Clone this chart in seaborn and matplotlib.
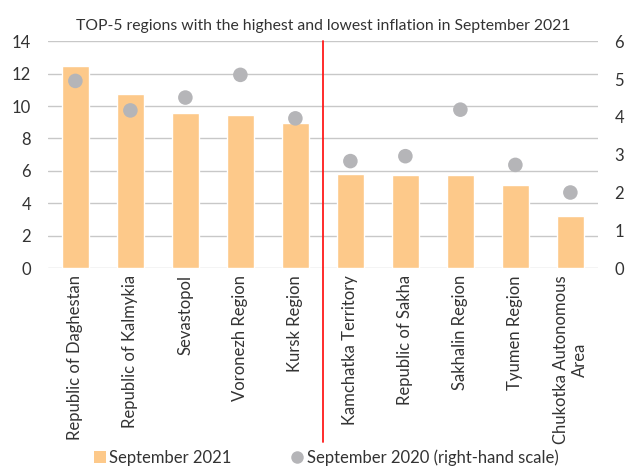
import matplotlib
matplotlib.use('agg')
import pandas as pd
import seaborn as sns
import matplotlib.pyplot as plt
from matplotlib.lines import Line2D
from matplotlib.patches import Patch

regions = ["Republic of Daghestan", "Republic of Kalmykia", "Sevastopol",
           "Voronezh Region", "Kursk Region", "Kamchatka Territory",
           "Republic of Sakha", "Sakhalin Region", "Tyumen Region",
           "Chukotka Autonomous\nArea"]
sep_2021 = [12.5, 10.77, 9.55, 9.45, 8.93, 5.83, 5.77, 5.74, 5.13, 3.21]
sep_2020 = [4.95, 4.17, 4.51, 5.11, 3.96, 2.83, 2.96, 4.19, 2.73, 2.0]

BAR = "#fdc98a"
DOT = "#b5b5b8"
GRID = "#c8c8c8"
TXT = "#333333"

df = pd.DataFrame({"region": regions, "sep2021": sep_2021, "sep2020": sep_2020})

sns.set_style("white")
plt.rcParams['font.family'] = ['Lato', 'DejaVu Sans']

fig, ax = plt.subplots(figsize=(6.3, 4.68), dpi=100)
fig.subplots_adjust(left=0.076, right=0.949, top=0.912, bottom=0.427)

sns.barplot(data=df, x="region", y="sep2021", color=BAR, width=0.5,
            saturation=1, ax=ax, zorder=2)
ax.set_ylim(0, 14)
ax.set_yticks(range(0, 15, 2))
ax.set_xlim(-0.5, 9.5)
ax.grid(axis='y', color=GRID, linewidth=1, zorder=0)
ax.set_axisbelow(True)
ax.set_xlabel("")
ax.set_ylabel("")
ax.tick_params(axis='x', rotation=90, labelsize=12, length=0, colors=TXT, pad=5)
ax.tick_params(axis='y', labelsize=12, length=0, colors=TXT, pad=12)
for s in ax.spines.values():
    s.set_visible(False)

ax2 = ax.twinx()
sns.scatterplot(x=list(range(len(regions))), y=sep_2020, color=DOT, s=110,
                edgecolor='none', ax=ax2, zorder=3)
ax2.set_ylim(0, 6)
ax2.set_yticks(range(0, 7))
ax2.tick_params(axis='y', labelsize=12, length=0, colors=TXT, pad=12)
for s in ax2.spines.values():
    s.set_visible(False)

ax.axvline(4.5, ymin=-0.765, ymax=1.0, color="#ff1a1a", linewidth=1.3,
           clip_on=False, zorder=5)

ax.set_title("TOP-5 regions with the highest and lowest inflation in September 2021",
             fontsize=11.3, color=TXT, pad=8)

handles = [Patch(facecolor=BAR, edgecolor='none'),
           Line2D([], [], marker='o', linestyle='', markersize=9,
                  markerfacecolor=DOT, markeredgecolor='none')]
fig.legend(handles, ["September 2021", "September 2020 (right-hand scale)"],
           loc='lower center', ncol=2, frameon=False, fontsize=12,
           bbox_to_anchor=(0.518, -0.028), handlelength=0.7, handletextpad=0.2,
           columnspacing=3.6, labelcolor=TXT)

fig.savefig("out.png", dpi=100)
